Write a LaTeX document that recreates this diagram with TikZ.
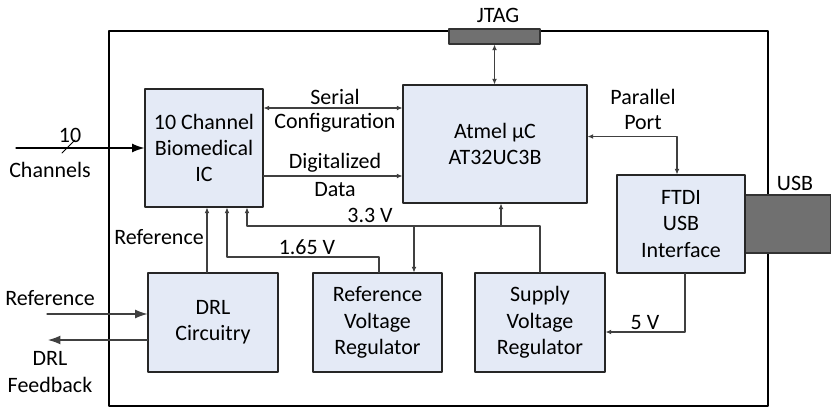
\documentclass[tikz,border=0pt]{standalone}
\usepackage{fontspec}
\setmainfont{Carlito}
\usetikzlibrary{arrows.meta}
\definecolor{boxfill}{RGB}{228,234,246}
\definecolor{wiregray}{RGB}{64,64,64}
\definecolor{portgray}{RGB}{112,112,112}
\begin{document}
\begin{tikzpicture}[line cap=round,line join=round,>={Latex[length=3.2pt,width=2.8pt]},
  font=\fontsize{12.5}{15}\selectfont,
  block/.style={draw=black!85,line width=0.6pt,fill=boxfill,align=center,inner sep=0pt},
  port/.style={draw=black!80,line width=0.6pt,fill=portgray,inner sep=0pt},
  wire/.style={draw=wiregray,line width=0.6pt},
  bigtip/.style={-{Latex[length=7pt,width=5pt]}}]
  \useasboundingbox (0,0) rectangle (16.62,8.16);
  \draw[line width=1.2pt] (2.18,0.04) rectangle (15.36,7.54);
  \node[port,minimum width=1.82cm,minimum height=0.30cm] (jtag) at (9.89,7.43) {};
  \node[port,minimum width=1.74cm,minimum height=1.16cm] (usb) at (15.75,3.68) {};
  \node (jtaglbl) at (9.96,7.86) {JTAG};
  \node (usblbl) at (15.90,4.50) {USB};
  % blocks
  \node[block,minimum width=2.36cm,minimum height=2.36cm] (ic) at (4.08,5.20) {10 Channel\\Biomedical\\IC};
  \node[block,minimum width=3.68cm,minimum height=2.36cm] (mcu) at (9.90,5.28) {Atmel µC\\AT32UC3B};
  \node[block,minimum width=2.56cm,minimum height=1.96cm] (ftdi) at (13.62,3.68) {FTDI\\USB\\Interface};
  \node[block,minimum width=2.60cm,minimum height=1.98cm] (drl) at (4.26,1.71) {DRL\\Circuitry};
  \node[block,minimum width=2.58cm,minimum height=1.98cm] (refreg) at (7.55,1.71) {Reference\\Voltage\\Regulator};
  \node[block,minimum width=2.60cm,minimum height=1.98cm] (supreg) at (10.80,1.71) {Supply\\Voltage\\Regulator};
  % free ends and corners
  \coordinate (chin) at (0.32,5.20);
  \coordinate (refin) at (0.94,1.88);
  \coordinate (fbout) at (0.96,1.36);
  \coordinate (ser) at (0,6.00);
  \coordinate (dig) at (0,4.64);
  \coordinate (par) at (13.54,5.43);
  \coordinate (v33) at (4.94,3.64);
  \coordinate (v33mcu) at (10.02,3.64);
  \coordinate (v33ref) at (8.28,3.64);
  \coordinate (v165) at (4.54,3.02);
  \coordinate (v5) at (13.70,1.52);
  % connectors
  \draw[line width=0.7pt,bigtip] (chin) -- (ic.west);
  \draw[line width=0.6pt] (1.24,5.10) -- (1.50,5.36);
  \draw[wire,<->] (ic.east |- ser) -- (mcu.west |- ser);
  \draw[wire,->] (ic.east |- dig) -- (mcu.west |- dig);
  \draw[wire,<->] (jtag.south) -- (jtag.south |- mcu.north);
  \draw[wire,<->] (mcu.east |- par) -- (par) -- (par |- ftdi.north);
  \draw[wire,->] (supreg.north) |- (v33) -- (v33 |- ic.south);
  \draw[wire,->] (v33mcu) -- (v33mcu |- mcu.south);
  \draw[wire,->] (v33ref) -- (v33ref |- refreg.north);
  \draw[wire,->] (refreg.north -| 7.58,0) |- (v165) -- (v165 |- ic.south);
  \draw[wire,->] (drl.north -| 4.14,0) -- (ic.south -| 4.14,0);
  \draw[wire,bigtip] (refin) -- (drl.west |- refin);
  \draw[wire,bigtip] (drl.west |- fbout) -- (fbout);
  \draw[wire,->] (ftdi.south -| v5) |- (supreg.east |- v5);
  % labels
  \node at (1.40,5.46) {10};
  \node at (1.00,4.76) {Channels};
  \node at (6.70,6.22) {Serial};
  \node at (6.70,5.70) {Configuration};
  \node at (6.70,4.90) {Digitalized};
  \node at (6.70,4.36) {Data};
  \node at (12.86,6.22) {Parallel};
  \node at (12.86,5.70) {Port};
  \node at (7.40,3.86) {3.3 V};
  \node at (6.14,3.22) {1.65 V};
  \node at (3.18,3.42) {Reference};
  \node at (1.00,2.20) {Reference};
  \node at (1.00,1.00) {DRL};
  \node at (1.00,0.46) {Feedback};
  \node at (12.90,1.70) {5 V};
\end{tikzpicture}
\end{document}
